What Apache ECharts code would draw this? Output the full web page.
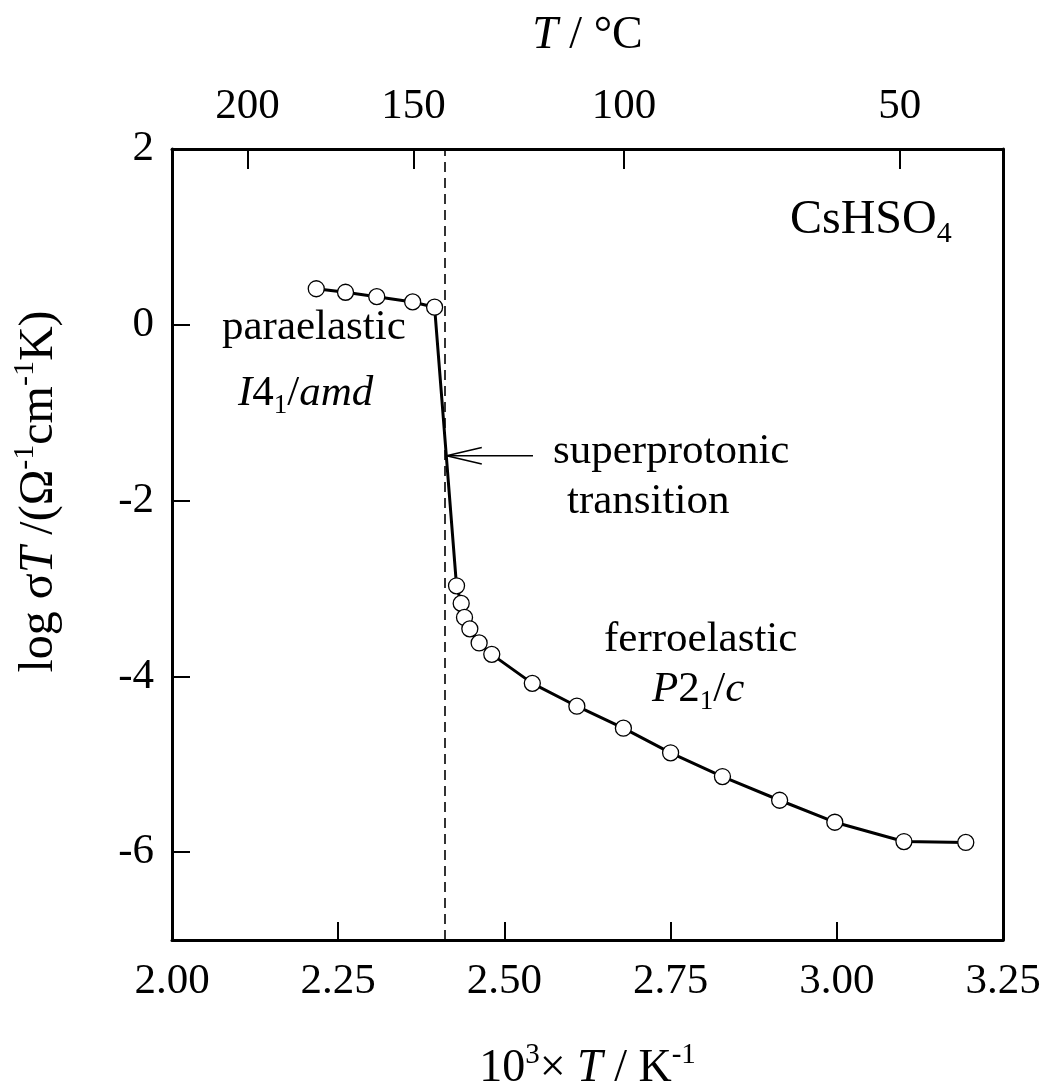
<!DOCTYPE html>
<html>
<head>
<meta charset="utf-8">
<script src="https://cdn.jsdelivr.net/npm/echarts@6/dist/echarts.min.js"></script>
<style>
html,body{margin:0;padding:0;background:#fff;}
#main{width:1045px;height:1089px;}
</style>
</head>
<body>
<div id="main"></div>
<script>
// ---- data ----
var invT = [2.217, 2.261, 2.308, 2.362, 2.395, 2.428, 2.435, 2.440, 2.448, 2.462, 2.481, 2.542, 2.609, 2.679, 2.750, 2.828, 2.914, 2.997, 3.101, 3.194];
var logSigmaT = [0.41, 0.37, 0.32, 0.26, 0.20, -2.97, -3.17, -3.33, -3.46, -3.62, -3.75, -4.08, -4.34, -4.59, -4.87, -5.14, -5.41, -5.66, -5.88, -5.89];
var transitionX = 2.41;
var celsiusTicks = [200, 150, 100, 50];
var yTickValues = [2, 0, -2, -4, -6];
var arrowShaft = [[2.543, -1.49], [2.413, -1.49]];
var arrowHead = [[2.466, -1.396], [2.413, -1.49], [2.466, -1.584]];

var FONT = 'Liberation Serif';
var FS = 43;
var celsiusPos = celsiusTicks.map(function (c) { return 1000 / (c + 273.15); });

var supStyle = { fontFamily: FONT, fontSize: 27, verticalAlign: 'top', lineHeight: 52 };
var subStyle = { fontFamily: FONT, fontSize: 27, verticalAlign: 'bottom', lineHeight: 52 };
var nStyle = { fontFamily: FONT, fontSize: FS, lineHeight: 52, verticalAlign: 'middle' };
var iStyle = { fontFamily: FONT, fontSize: FS, fontStyle: 'italic', lineHeight: 52, verticalAlign: 'middle' };
var richBase = { n: nStyle, i: iStyle, sup: supStyle, sub: subStyle };
var richBig = {
  n: { fontFamily: FONT, fontSize: 48, lineHeight: 58, verticalAlign: 'middle' },
  sub: { fontFamily: FONT, fontSize: 30, verticalAlign: 'bottom', lineHeight: 58 }
};

var nameFS = 46;
var richName = {
  n: { fontFamily: FONT, fontSize: nameFS, lineHeight: 56, verticalAlign: 'middle' },
  i: { fontFamily: FONT, fontSize: nameFS, fontStyle: 'italic', lineHeight: 56, verticalAlign: 'middle' },
  sup: { fontFamily: FONT, fontSize: 29, verticalAlign: 'top', lineHeight: 56 }
};
var yNameFS = 48;
var richYName = {
  n: { fontFamily: FONT, fontSize: yNameFS, lineHeight: 58, verticalAlign: 'middle' },
  i: { fontFamily: FONT, fontSize: yNameFS, fontStyle: 'italic', lineHeight: 58, verticalAlign: 'middle' },
  sup: { fontFamily: FONT, fontSize: 30, verticalAlign: 'top', lineHeight: 58 }
};

var chart = echarts.init(document.getElementById('main'), null, { renderer: 'canvas' });

var option = {
  backgroundColor: '#fff',
  animation: false,
  grid: { left: 172, right: 42, top: 149, bottom: 149, containLabel: false, outerBoundsMode: 'none' },
  xAxis: [
    {
      type: 'value', position: 'bottom', min: 2.0, max: 3.25, interval: 0.25,
      axisLine: { show: true, onZero: false, lineStyle: { color: '#000', width: 3 } },
      axisTick: { show: true, inside: true, length: 18, lineStyle: { color: '#000', width: 2 } },
      axisLabel: { color: '#000', fontFamily: FONT, fontSize: FS, margin: 20,
        formatter: function (v) { return v.toFixed(2); } },
      splitLine: { show: false },
      name: '{n|10}{sup|3}{n|× }{i|T}{n| / K}{sup|-1}',
      nameLocation: 'middle', nameGap: 101,
      nameTextStyle: { rich: richName, color: '#000' }
    },
    {
      type: 'value', position: 'top', min: 2.0, max: 3.25,
      axisLine: { show: true, onZero: false, lineStyle: { color: '#000', width: 3 } },
      axisTick: { show: true, inside: true, length: 20, customValues: celsiusPos, lineStyle: { color: '#000', width: 2 } },
      axisLabel: { color: '#000', fontFamily: FONT, fontSize: FS, margin: 21, customValues: celsiusPos,
        formatter: function (v) { return String(Math.round(1000 / v - 273.15)); } },
      splitLine: { show: false },
      name: '{i|T}{n| / °C}',
      nameLocation: 'middle', nameGap: 85,
      nameTextStyle: { rich: richName, color: '#000' }
    }
  ],
  yAxis: [
    {
      type: 'value', position: 'left', min: -7, max: 2,
      axisLine: { show: true, onZero: false, lineStyle: { color: '#000', width: 3 } },
      axisTick: { show: true, inside: true, length: 18, customValues: yTickValues, lineStyle: { color: '#000', width: 2 } },
      axisLabel: { color: '#000', fontFamily: FONT, fontSize: FS, margin: 18, customValues: yTickValues },
      splitLine: { show: false },
      name: '{n|log σ}{i|T}{n| /(Ω}{sup|-1}{n|cm}{sup|-1}{n|K)}',
      nameLocation: 'middle', nameGap: 104, nameRotate: 90,
      nameTextStyle: { rich: richYName, color: '#000', padding: [0, 0, 0, 106] }
    },
    {
      type: 'value', position: 'right', min: -7, max: 2,
      axisLine: { show: true, onZero: false, lineStyle: { color: '#000', width: 3 } },
      axisTick: { show: false }, axisLabel: { show: false }, splitLine: { show: false }
    }
  ],
  series: [
    {
      type: 'line', xAxisIndex: 0, yAxisIndex: 0,
      data: invT.map(function (x, i) { return [x, logSigmaT[i]]; }),
      symbol: 'circle', symbolSize: 16, showAllSymbol: true,
      lineStyle: { color: '#000', width: 3 },
      itemStyle: { color: '#fff', borderColor: '#000', borderWidth: 1.3 },
      z: 5,
      markLine: {
        silent: true, symbol: ['none', 'none'], label: { show: false },
        lineStyle: { color: '#000', width: 1.6, type: [10, 6] },
        data: [{ xAxis: transitionX }]
      }
    },
    {
      type: 'line', xAxisIndex: 0, yAxisIndex: 0, data: arrowShaft,
      symbol: 'none', lineStyle: { color: '#000', width: 1.6 }, z: 6
    },
    {
      type: 'line', xAxisIndex: 0, yAxisIndex: 0, data: arrowHead,
      symbol: 'none', lineStyle: { color: '#000', width: 1.6 }, z: 6
    }
  ],
  graphic: [
    { type: 'text', left: 222, top: 306, style: { text: 'paraelastic', font: FS + 'px "' + FONT + '"', fill: '#000' } },
    { type: 'text', left: 238, top: 372, style: { text: '{i|I}{n|4}{sub|1}{n|/}{i|amd}', rich: richBase, fill: '#000' } },
    { type: 'text', left: 553, top: 430, style: { text: 'superprotonic', font: FS + 'px "' + FONT + '"', fill: '#000' } },
    { type: 'text', left: 567, top: 480, style: { text: 'transition', font: FS + 'px "' + FONT + '"', fill: '#000' } },
    { type: 'text', left: 604, top: 618, style: { text: 'ferroelastic', font: FS + 'px "' + FONT + '"', fill: '#000' } },
    { type: 'text', left: 652, top: 668, style: { text: '{i|P}{n|2}{sub|1}{n|/}{i|c}', rich: richBase, fill: '#000' } },
    { type: 'text', left: 790, top: 196, style: { text: '{n|CsHSO}{sub|4}', rich: richBig, fill: '#000' } }
  ]
};
chart.setOption(option);
</script>
</body>
</html>
